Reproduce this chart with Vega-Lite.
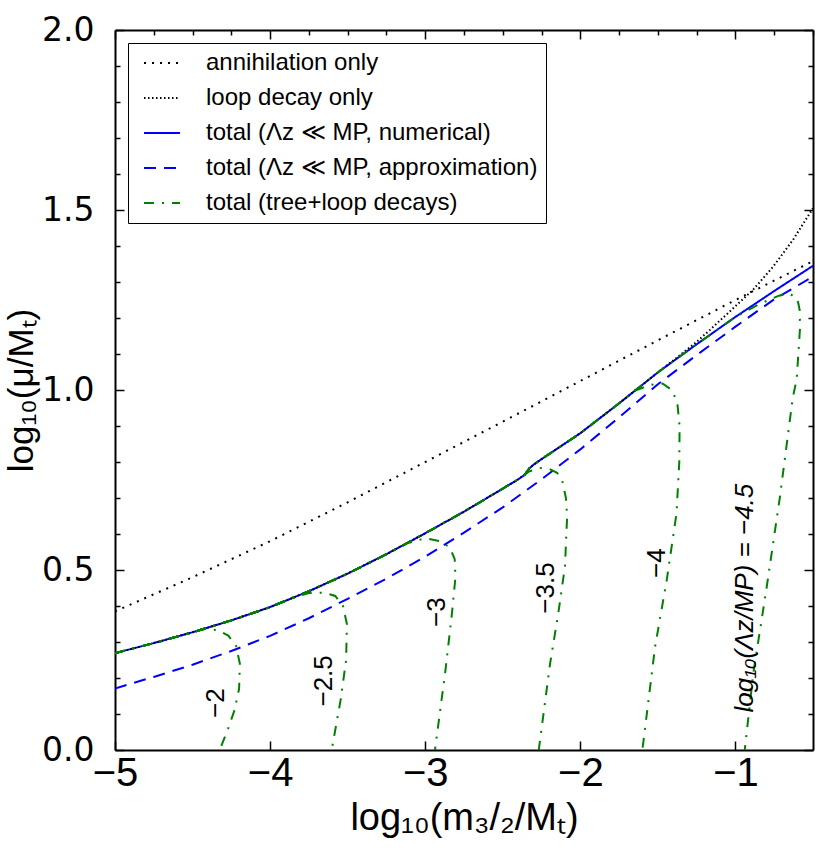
{
  "$schema": "https://vega.github.io/schema/vega-lite/v6.json",
  "width": 698,
  "height": 720,
  "autosize": {"type": "none"},
  "padding": {"left": 115, "top": 30, "right": 16, "bottom": 105},
  "config": {
    "font": "Liberation Sans",
    "view": {"stroke": null},
    "axis": {
      "grid": false,
      "domainColor": "black",
      "domainWidth": 2,
      "tickColor": "black",
      "tickWidth": 1.5,
      "labelColor": "black",
      "titleColor": "black",
      "titleFontWeight": "normal",
      "labelFlush": false,
      "labelOverlap": false
    },
    "text": {"font": "Liberation Sans", "color": "black"}
  },
  "datasets": {
    "curves": [
      {"series": "annihilation only", "k": 0, "x": -5, "y": 0.385},
      {"series": "annihilation only", "k": 1, "x": -4.5, "y": 0.48},
      {"series": "annihilation only", "k": 2, "x": -4, "y": 0.58},
      {"series": "annihilation only", "k": 3, "x": -3.5, "y": 0.688},
      {"series": "annihilation only", "k": 4, "x": -3, "y": 0.8},
      {"series": "annihilation only", "k": 5, "x": -2.5, "y": 0.912},
      {"series": "annihilation only", "k": 6, "x": -2, "y": 1.025},
      {"series": "annihilation only", "k": 7, "x": -1.5, "y": 1.138},
      {"series": "annihilation only", "k": 8, "x": -1, "y": 1.25},
      {"series": "annihilation only", "k": 9, "x": -0.5, "y": 1.358},

      {"series": "loop decay only", "k": 0, "x": -5, "y": 0.269},
      {"series": "loop decay only", "k": 1, "x": -4.75, "y": 0.297},
      {"series": "loop decay only", "k": 2, "x": -4.5, "y": 0.327},
      {"series": "loop decay only", "k": 3, "x": -4.25, "y": 0.36},
      {"series": "loop decay only", "k": 4, "x": -4, "y": 0.397},
      {"series": "loop decay only", "k": 5, "x": -3.75, "y": 0.441},
      {"series": "loop decay only", "k": 6, "x": -3.5, "y": 0.49},
      {"series": "loop decay only", "k": 7, "x": -3.25, "y": 0.544},
      {"series": "loop decay only", "k": 8, "x": -3, "y": 0.602},
      {"series": "loop decay only", "k": 9, "x": -2.75, "y": 0.662},
      {"series": "loop decay only", "k": 10, "x": -2.5, "y": 0.726},
      {"series": "loop decay only", "k": 11, "x": -2.4, "y": 0.752},
      {"series": "loop decay only", "k": 12, "x": -2.36, "y": 0.764},
      {"series": "loop decay only", "k": 13, "x": -2.33, "y": 0.782},
      {"series": "loop decay only", "k": 14, "x": -2.3, "y": 0.793},
      {"series": "loop decay only", "k": 15, "x": -2.25, "y": 0.808},
      {"series": "loop decay only", "k": 16, "x": -2, "y": 0.88},
      {"series": "loop decay only", "k": 17, "x": -1.75, "y": 0.963},
      {"series": "loop decay only", "k": 18, "x": -1.5, "y": 1.049},
      {"series": "loop decay only", "k": 19, "x": -1.377, "y": 1.09},
      {"series": "loop decay only", "k": 20, "x": -1.25, "y": 1.134},
      {"series": "loop decay only", "k": 21, "x": -1.164, "y": 1.167},
      {"series": "loop decay only", "k": 22, "x": -1, "y": 1.233},
      {"series": "loop decay only", "k": 23, "x": -0.887, "y": 1.278},
      {"series": "loop decay only", "k": 24, "x": -0.758, "y": 1.342},
      {"series": "loop decay only", "k": 25, "x": -0.629, "y": 1.417},
      {"series": "loop decay only", "k": 26, "x": -0.5, "y": 1.505},

      {"series": "total (Λz ≪ MP, numerical)", "k": 0, "x": -5, "y": 0.269},
      {"series": "total (Λz ≪ MP, numerical)", "k": 1, "x": -4.75, "y": 0.297},
      {"series": "total (Λz ≪ MP, numerical)", "k": 2, "x": -4.5, "y": 0.327},
      {"series": "total (Λz ≪ MP, numerical)", "k": 3, "x": -4.25, "y": 0.36},
      {"series": "total (Λz ≪ MP, numerical)", "k": 4, "x": -4, "y": 0.397},
      {"series": "total (Λz ≪ MP, numerical)", "k": 5, "x": -3.75, "y": 0.441},
      {"series": "total (Λz ≪ MP, numerical)", "k": 6, "x": -3.5, "y": 0.49},
      {"series": "total (Λz ≪ MP, numerical)", "k": 7, "x": -3.25, "y": 0.544},
      {"series": "total (Λz ≪ MP, numerical)", "k": 8, "x": -3, "y": 0.602},
      {"series": "total (Λz ≪ MP, numerical)", "k": 9, "x": -2.75, "y": 0.662},
      {"series": "total (Λz ≪ MP, numerical)", "k": 10, "x": -2.5, "y": 0.726},
      {"series": "total (Λz ≪ MP, numerical)", "k": 11, "x": -2.4, "y": 0.752},
      {"series": "total (Λz ≪ MP, numerical)", "k": 12, "x": -2.36, "y": 0.764},
      {"series": "total (Λz ≪ MP, numerical)", "k": 13, "x": -2.33, "y": 0.782},
      {"series": "total (Λz ≪ MP, numerical)", "k": 14, "x": -2.3, "y": 0.793},
      {"series": "total (Λz ≪ MP, numerical)", "k": 15, "x": -2.25, "y": 0.808},
      {"series": "total (Λz ≪ MP, numerical)", "k": 16, "x": -2, "y": 0.88},
      {"series": "total (Λz ≪ MP, numerical)", "k": 17, "x": -1.75, "y": 0.963},
      {"series": "total (Λz ≪ MP, numerical)", "k": 18, "x": -1.5, "y": 1.049},
      {"series": "total (Λz ≪ MP, numerical)", "k": 19, "x": -1.25, "y": 1.127},
      {"series": "total (Λz ≪ MP, numerical)", "k": 20, "x": -1, "y": 1.203},
      {"series": "total (Λz ≪ MP, numerical)", "k": 21, "x": -0.75, "y": 1.275},
      {"series": "total (Λz ≪ MP, numerical)", "k": 22, "x": -0.5, "y": 1.345},

      {"series": "total (Λz ≪ MP, approximation)", "k": 0, "x": -5, "y": 0.171},
      {"series": "total (Λz ≪ MP, approximation)", "k": 1, "x": -4.75, "y": 0.203},
      {"series": "total (Λz ≪ MP, approximation)", "k": 2, "x": -4.5, "y": 0.237},
      {"series": "total (Λz ≪ MP, approximation)", "k": 3, "x": -4.25, "y": 0.275},
      {"series": "total (Λz ≪ MP, approximation)", "k": 4, "x": -4, "y": 0.317},
      {"series": "total (Λz ≪ MP, approximation)", "k": 5, "x": -3.75, "y": 0.366},
      {"series": "total (Λz ≪ MP, approximation)", "k": 6, "x": -3.5, "y": 0.42},
      {"series": "total (Λz ≪ MP, approximation)", "k": 7, "x": -3.25, "y": 0.476},
      {"series": "total (Λz ≪ MP, approximation)", "k": 8, "x": -3, "y": 0.537},
      {"series": "total (Λz ≪ MP, approximation)", "k": 9, "x": -2.75, "y": 0.604},
      {"series": "total (Λz ≪ MP, approximation)", "k": 10, "x": -2.5, "y": 0.674},
      {"series": "total (Λz ≪ MP, approximation)", "k": 11, "x": -2.25, "y": 0.752},
      {"series": "total (Λz ≪ MP, approximation)", "k": 12, "x": -2, "y": 0.835},
      {"series": "total (Λz ≪ MP, approximation)", "k": 13, "x": -1.75, "y": 0.924},
      {"series": "total (Λz ≪ MP, approximation)", "k": 14, "x": -1.5, "y": 1.016},
      {"series": "total (Λz ≪ MP, approximation)", "k": 15, "x": -1.25, "y": 1.097},
      {"series": "total (Λz ≪ MP, approximation)", "k": 16, "x": -1, "y": 1.176},
      {"series": "total (Λz ≪ MP, approximation)", "k": 17, "x": -0.75, "y": 1.252},
      {"series": "total (Λz ≪ MP, approximation)", "k": 18, "x": -0.5, "y": 1.315}
    ],
    "tree": [
      {"series": "total (tree+loop decays)", "branch": "-2", "k": 0, "x": -5, "y": 0.269},
      {"series": "total (tree+loop decays)", "branch": "-2", "k": 1, "x": -4.75, "y": 0.297},
      {"series": "total (tree+loop decays)", "branch": "-2", "k": 2, "x": -4.5, "y": 0.327},
      {"series": "total (tree+loop decays)", "branch": "-2", "k": 3, "x": -4.42, "y": 0.336},
      {"series": "total (tree+loop decays)", "branch": "-2", "k": 4, "x": -4.34, "y": 0.333},
      {"series": "total (tree+loop decays)", "branch": "-2", "k": 5, "x": -4.27, "y": 0.318},
      {"series": "total (tree+loop decays)", "branch": "-2", "k": 6, "x": -4.22, "y": 0.29},
      {"series": "total (tree+loop decays)", "branch": "-2", "k": 7, "x": -4.195, "y": 0.24},
      {"series": "total (tree+loop decays)", "branch": "-2", "k": 8, "x": -4.2, "y": 0.17},
      {"series": "total (tree+loop decays)", "branch": "-2", "k": 9, "x": -4.23, "y": 0.11},
      {"series": "total (tree+loop decays)", "branch": "-2", "k": 10, "x": -4.27, "y": 0.06},
      {"series": "total (tree+loop decays)", "branch": "-2", "k": 11, "x": -4.325, "y": 0},

      {"series": "total (tree+loop decays)", "branch": "-2.5", "k": 0, "x": -5, "y": 0.269},
      {"series": "total (tree+loop decays)", "branch": "-2.5", "k": 1, "x": -4.75, "y": 0.297},
      {"series": "total (tree+loop decays)", "branch": "-2.5", "k": 2, "x": -4.5, "y": 0.327},
      {"series": "total (tree+loop decays)", "branch": "-2.5", "k": 3, "x": -4.25, "y": 0.36},
      {"series": "total (tree+loop decays)", "branch": "-2.5", "k": 4, "x": -4, "y": 0.397},
      {"series": "total (tree+loop decays)", "branch": "-2.5", "k": 5, "x": -3.85, "y": 0.424},
      {"series": "total (tree+loop decays)", "branch": "-2.5", "k": 6, "x": -3.75, "y": 0.436},
      {"series": "total (tree+loop decays)", "branch": "-2.5", "k": 7, "x": -3.65, "y": 0.437},
      {"series": "total (tree+loop decays)", "branch": "-2.5", "k": 8, "x": -3.58, "y": 0.428},
      {"series": "total (tree+loop decays)", "branch": "-2.5", "k": 9, "x": -3.53, "y": 0.4},
      {"series": "total (tree+loop decays)", "branch": "-2.5", "k": 10, "x": -3.505, "y": 0.35},
      {"series": "total (tree+loop decays)", "branch": "-2.5", "k": 11, "x": -3.51, "y": 0.25},
      {"series": "total (tree+loop decays)", "branch": "-2.5", "k": 12, "x": -3.545, "y": 0.14},
      {"series": "total (tree+loop decays)", "branch": "-2.5", "k": 13, "x": -3.603, "y": 0},

      {"series": "total (tree+loop decays)", "branch": "-3", "k": 0, "x": -5, "y": 0.269},
      {"series": "total (tree+loop decays)", "branch": "-3", "k": 1, "x": -4.75, "y": 0.297},
      {"series": "total (tree+loop decays)", "branch": "-3", "k": 2, "x": -4.5, "y": 0.327},
      {"series": "total (tree+loop decays)", "branch": "-3", "k": 3, "x": -4.25, "y": 0.36},
      {"series": "total (tree+loop decays)", "branch": "-3", "k": 4, "x": -4, "y": 0.397},
      {"series": "total (tree+loop decays)", "branch": "-3", "k": 5, "x": -3.75, "y": 0.441},
      {"series": "total (tree+loop decays)", "branch": "-3", "k": 6, "x": -3.5, "y": 0.49},
      {"series": "total (tree+loop decays)", "branch": "-3", "k": 7, "x": -3.25, "y": 0.544},
      {"series": "total (tree+loop decays)", "branch": "-3", "k": 8, "x": -3.12, "y": 0.574},
      {"series": "total (tree+loop decays)", "branch": "-3", "k": 9, "x": -3, "y": 0.588},
      {"series": "total (tree+loop decays)", "branch": "-3", "k": 10, "x": -2.9, "y": 0.58},
      {"series": "total (tree+loop decays)", "branch": "-3", "k": 11, "x": -2.84, "y": 0.562},
      {"series": "total (tree+loop decays)", "branch": "-3", "k": 12, "x": -2.81, "y": 0.53},
      {"series": "total (tree+loop decays)", "branch": "-3", "k": 13, "x": -2.805, "y": 0.48},
      {"series": "total (tree+loop decays)", "branch": "-3", "k": 14, "x": -2.83, "y": 0.37},
      {"series": "total (tree+loop decays)", "branch": "-3", "k": 15, "x": -2.87, "y": 0.22},
      {"series": "total (tree+loop decays)", "branch": "-3", "k": 16, "x": -2.937, "y": 0},

      {"series": "total (tree+loop decays)", "branch": "-3.5", "k": 0, "x": -5, "y": 0.269},
      {"series": "total (tree+loop decays)", "branch": "-3.5", "k": 1, "x": -4.75, "y": 0.297},
      {"series": "total (tree+loop decays)", "branch": "-3.5", "k": 2, "x": -4.5, "y": 0.327},
      {"series": "total (tree+loop decays)", "branch": "-3.5", "k": 3, "x": -4.25, "y": 0.36},
      {"series": "total (tree+loop decays)", "branch": "-3.5", "k": 4, "x": -4, "y": 0.397},
      {"series": "total (tree+loop decays)", "branch": "-3.5", "k": 5, "x": -3.75, "y": 0.441},
      {"series": "total (tree+loop decays)", "branch": "-3.5", "k": 6, "x": -3.5, "y": 0.49},
      {"series": "total (tree+loop decays)", "branch": "-3.5", "k": 7, "x": -3.25, "y": 0.544},
      {"series": "total (tree+loop decays)", "branch": "-3.5", "k": 8, "x": -3, "y": 0.602},
      {"series": "total (tree+loop decays)", "branch": "-3.5", "k": 9, "x": -2.75, "y": 0.662},
      {"series": "total (tree+loop decays)", "branch": "-3.5", "k": 10, "x": -2.5, "y": 0.726},
      {"series": "total (tree+loop decays)", "branch": "-3.5", "k": 11, "x": -2.4, "y": 0.752},
      {"series": "total (tree+loop decays)", "branch": "-3.5", "k": 12, "x": -2.33, "y": 0.774},
      {"series": "total (tree+loop decays)", "branch": "-3.5", "k": 13, "x": -2.26, "y": 0.783},
      {"series": "total (tree+loop decays)", "branch": "-3.5", "k": 14, "x": -2.2, "y": 0.781},
      {"series": "total (tree+loop decays)", "branch": "-3.5", "k": 15, "x": -2.15, "y": 0.77},
      {"series": "total (tree+loop decays)", "branch": "-3.5", "k": 16, "x": -2.115, "y": 0.745},
      {"series": "total (tree+loop decays)", "branch": "-3.5", "k": 17, "x": -2.093, "y": 0.7},
      {"series": "total (tree+loop decays)", "branch": "-3.5", "k": 18, "x": -2.085, "y": 0.65},
      {"series": "total (tree+loop decays)", "branch": "-3.5", "k": 19, "x": -2.099, "y": 0.51},
      {"series": "total (tree+loop decays)", "branch": "-3.5", "k": 20, "x": -2.142, "y": 0.38},
      {"series": "total (tree+loop decays)", "branch": "-3.5", "k": 21, "x": -2.195, "y": 0.24},
      {"series": "total (tree+loop decays)", "branch": "-3.5", "k": 22, "x": -2.268, "y": 0},

      {"series": "total (tree+loop decays)", "branch": "-4", "k": 0, "x": -5, "y": 0.269},
      {"series": "total (tree+loop decays)", "branch": "-4", "k": 1, "x": -4.75, "y": 0.297},
      {"series": "total (tree+loop decays)", "branch": "-4", "k": 2, "x": -4.5, "y": 0.327},
      {"series": "total (tree+loop decays)", "branch": "-4", "k": 3, "x": -4.25, "y": 0.36},
      {"series": "total (tree+loop decays)", "branch": "-4", "k": 4, "x": -4, "y": 0.397},
      {"series": "total (tree+loop decays)", "branch": "-4", "k": 5, "x": -3.75, "y": 0.441},
      {"series": "total (tree+loop decays)", "branch": "-4", "k": 6, "x": -3.5, "y": 0.49},
      {"series": "total (tree+loop decays)", "branch": "-4", "k": 7, "x": -3.25, "y": 0.544},
      {"series": "total (tree+loop decays)", "branch": "-4", "k": 8, "x": -3, "y": 0.602},
      {"series": "total (tree+loop decays)", "branch": "-4", "k": 9, "x": -2.75, "y": 0.662},
      {"series": "total (tree+loop decays)", "branch": "-4", "k": 10, "x": -2.5, "y": 0.726},
      {"series": "total (tree+loop decays)", "branch": "-4", "k": 11, "x": -2.4, "y": 0.752},
      {"series": "total (tree+loop decays)", "branch": "-4", "k": 12, "x": -2.36, "y": 0.764},
      {"series": "total (tree+loop decays)", "branch": "-4", "k": 13, "x": -2.33, "y": 0.782},
      {"series": "total (tree+loop decays)", "branch": "-4", "k": 14, "x": -2.3, "y": 0.793},
      {"series": "total (tree+loop decays)", "branch": "-4", "k": 15, "x": -2.25, "y": 0.808},
      {"series": "total (tree+loop decays)", "branch": "-4", "k": 16, "x": -2, "y": 0.88},
      {"series": "total (tree+loop decays)", "branch": "-4", "k": 17, "x": -1.75, "y": 0.963},
      {"series": "total (tree+loop decays)", "branch": "-4", "k": 18, "x": -1.65, "y": 0.998},
      {"series": "total (tree+loop decays)", "branch": "-4", "k": 19, "x": -1.55, "y": 1.014},
      {"series": "total (tree+loop decays)", "branch": "-4", "k": 20, "x": -1.47, "y": 1.018},
      {"series": "total (tree+loop decays)", "branch": "-4", "k": 21, "x": -1.41, "y": 1.0},
      {"series": "total (tree+loop decays)", "branch": "-4", "k": 22, "x": -1.375, "y": 0.965},
      {"series": "total (tree+loop decays)", "branch": "-4", "k": 23, "x": -1.36, "y": 0.9},
      {"series": "total (tree+loop decays)", "branch": "-4", "k": 24, "x": -1.362, "y": 0.8},
      {"series": "total (tree+loop decays)", "branch": "-4", "k": 25, "x": -1.38, "y": 0.657},
      {"series": "total (tree+loop decays)", "branch": "-4", "k": 26, "x": -1.443, "y": 0.472},
      {"series": "total (tree+loop decays)", "branch": "-4", "k": 27, "x": -1.518, "y": 0.287},
      {"series": "total (tree+loop decays)", "branch": "-4", "k": 28, "x": -1.6, "y": 0},

      {"series": "total (tree+loop decays)", "branch": "-4.5", "k": 0, "x": -5, "y": 0.269},
      {"series": "total (tree+loop decays)", "branch": "-4.5", "k": 1, "x": -4.75, "y": 0.297},
      {"series": "total (tree+loop decays)", "branch": "-4.5", "k": 2, "x": -4.5, "y": 0.327},
      {"series": "total (tree+loop decays)", "branch": "-4.5", "k": 3, "x": -4.25, "y": 0.36},
      {"series": "total (tree+loop decays)", "branch": "-4.5", "k": 4, "x": -4, "y": 0.397},
      {"series": "total (tree+loop decays)", "branch": "-4.5", "k": 5, "x": -3.75, "y": 0.441},
      {"series": "total (tree+loop decays)", "branch": "-4.5", "k": 6, "x": -3.5, "y": 0.49},
      {"series": "total (tree+loop decays)", "branch": "-4.5", "k": 7, "x": -3.25, "y": 0.544},
      {"series": "total (tree+loop decays)", "branch": "-4.5", "k": 8, "x": -3, "y": 0.602},
      {"series": "total (tree+loop decays)", "branch": "-4.5", "k": 9, "x": -2.75, "y": 0.662},
      {"series": "total (tree+loop decays)", "branch": "-4.5", "k": 10, "x": -2.5, "y": 0.726},
      {"series": "total (tree+loop decays)", "branch": "-4.5", "k": 11, "x": -2.4, "y": 0.752},
      {"series": "total (tree+loop decays)", "branch": "-4.5", "k": 12, "x": -2.36, "y": 0.764},
      {"series": "total (tree+loop decays)", "branch": "-4.5", "k": 13, "x": -2.33, "y": 0.782},
      {"series": "total (tree+loop decays)", "branch": "-4.5", "k": 14, "x": -2.3, "y": 0.793},
      {"series": "total (tree+loop decays)", "branch": "-4.5", "k": 15, "x": -2.25, "y": 0.808},
      {"series": "total (tree+loop decays)", "branch": "-4.5", "k": 16, "x": -2, "y": 0.88},
      {"series": "total (tree+loop decays)", "branch": "-4.5", "k": 17, "x": -1.75, "y": 0.963},
      {"series": "total (tree+loop decays)", "branch": "-4.5", "k": 18, "x": -1.5, "y": 1.049},
      {"series": "total (tree+loop decays)", "branch": "-4.5", "k": 19, "x": -1.25, "y": 1.127},
      {"series": "total (tree+loop decays)", "branch": "-4.5", "k": 20, "x": -1, "y": 1.203},
      {"series": "total (tree+loop decays)", "branch": "-4.5", "k": 21, "x": -0.85, "y": 1.238},
      {"series": "total (tree+loop decays)", "branch": "-4.5", "k": 22, "x": -0.72, "y": 1.262},
      {"series": "total (tree+loop decays)", "branch": "-4.5", "k": 23, "x": -0.65, "y": 1.268},
      {"series": "total (tree+loop decays)", "branch": "-4.5", "k": 24, "x": -0.6, "y": 1.252},
      {"series": "total (tree+loop decays)", "branch": "-4.5", "k": 25, "x": -0.585, "y": 1.22},
      {"series": "total (tree+loop decays)", "branch": "-4.5", "k": 26, "x": -0.584, "y": 1.17},
      {"series": "total (tree+loop decays)", "branch": "-4.5", "k": 27, "x": -0.605, "y": 1.03},
      {"series": "total (tree+loop decays)", "branch": "-4.5", "k": 28, "x": -0.63, "y": 0.98},
      {"series": "total (tree+loop decays)", "branch": "-4.5", "k": 29, "x": -0.713, "y": 0.704},
      {"series": "total (tree+loop decays)", "branch": "-4.5", "k": 30, "x": -0.798, "y": 0.454},
      {"series": "total (tree+loop decays)", "branch": "-4.5", "k": 31, "x": -0.885, "y": 0.213},
      {"series": "total (tree+loop decays)", "branch": "-4.5", "k": 32, "x": -0.94, "y": 0}
    ],
    "tags": [
      {"tag": "−2", "x": -4.35, "y": 0.13},
      {"tag": "−2.5", "x": -3.652, "y": 0.192},
      {"tag": "−3", "x": -2.924, "y": 0.383},
      {"tag": "−3.5", "x": -2.221, "y": 0.45},
      {"tag": "−4", "x": -1.505, "y": 0.519}
    ],
    "tagLong": [
      {"tag": "log₁₀(Λz/MP) = −4.5", "x": -0.938, "y": 0.422}
    ]
  },
  "resolve": {"axis": {"x": "independent", "y": "independent"}},
  "layer": [
    {
      "data": {"name": "curves"},
      "transform": [{"filter": "datum.series !== 'loop decay only'"}],
      "mark": {"type": "line", "strokeWidth": 2, "strokeCap": "butt", "clip": true},
      "encoding": {
        "x": {
          "field": "x", "type": "quantitative",
          "scale": {"domain": [-5, -0.5], "nice": false, "zero": false},
          "axis": {
            "orient": "bottom",
            "values": [-5, -4.75, -4.5, -4.25, -4, -3.75, -3.5, -3.25, -3, -2.75, -2.5, -2.25, -2, -1.75, -1.5, -1.25, -1, -0.75, -0.5],
            "format": "d",
            "labelExpr": "datum.value % 1 === 0 ? datum.label : ''",
            "tickSize": {"condition": {"test": "datum.value % 1 === 0", "value": -9}, "value": -5},
            "labelFont": "Liberation Sans",
            "labelFontSize": 40,
            "labelPadding": 12,
            "title": "log₁₀(m₃/₂/Mₜ)",
            "titleFont": "Liberation Sans",
            "titleFontSize": 38,
            "titlePadding": 6
          }
        },
        "y": {
          "field": "y", "type": "quantitative",
          "scale": {"domain": [0, 2], "nice": false, "zero": false},
          "axis": {
            "orient": "left",
            "values": [0, 0.1, 0.2, 0.3, 0.4, 0.5, 0.6, 0.7, 0.8, 0.9, 1.0, 1.1, 1.2, 1.3, 1.4, 1.5, 1.6, 1.7, 1.8, 1.9, 2.0],
            "format": ".1f",
            "labelExpr": "abs(datum.value * 2 - round(datum.value * 2)) < 0.001 ? datum.label : ''",
            "tickSize": {"condition": {"test": "abs(datum.value * 2 - round(datum.value * 2)) < 0.001", "value": -9}, "value": -5},
            "labelFont": "DejaVu Sans",
            "labelFontSize": 33,
            "labelPadding": 30,
            "title": "log₁₀(μ/Mₜ)",
            "titleFont": "Liberation Sans",
            "titleFontSize": 35,
            "titlePadding": 2
          }
        },
        "color": {
          "field": "series", "type": "nominal",
          "scale": {
            "domain": ["annihilation only", "loop decay only", "total (Λz ≪ MP, numerical)", "total (Λz ≪ MP, approximation)", "total (tree+loop decays)"],
            "range": ["#000000", "#000000", "#0000ff", "#0000ff", "#008000"]
          },
          "legend": {
            "orient": "top-left", "offset": 13, "title": null,
            "symbolType": "M-1.8,0H1.8", "symbolSize": 400, "symbolStrokeWidth": 2, "symbolOffset": 14,
            "labelOffset": 32, "labelFontSize": 24, "labelFont": "Liberation Sans", "labelColor": "black", "labelLimit": 0,
            "rowPadding": 11, "padding": 8, "strokeColor": "black", "fillColor": "white", "cornerRadius": 0
          }
        },
        "strokeDash": {
          "field": "series", "type": "nominal",
          "scale": {
            "domain": ["annihilation only", "loop decay only", "total (Λz ≪ MP, numerical)", "total (Λz ≪ MP, approximation)", "total (tree+loop decays)"],
            "range": [[2, 6], [1.5, 2.5], [1, 0], [12, 8], [10, 8, 2, 8]]
          },
          "legend": {
            "orient": "top-left", "offset": 13, "title": null,
            "symbolType": "M-1.8,0H1.8", "symbolSize": 400, "symbolStrokeWidth": 2, "symbolOffset": 14,
            "labelOffset": 32, "labelFontSize": 24, "labelFont": "Liberation Sans", "labelColor": "black", "labelLimit": 0,
            "rowPadding": 11, "padding": 8, "strokeColor": "black", "fillColor": "white", "cornerRadius": 0
          }
        },
        "order": {"field": "k", "type": "quantitative"}
      }
    },
    {
      "data": {"name": "curves"},
      "transform": [{"filter": "datum.series === 'loop decay only'"}],
      "mark": {"type": "line", "strokeWidth": 2, "strokeCap": "butt", "clip": true},
      "encoding": {
        "x": {"field": "x", "type": "quantitative", "scale": {"domain": [-5, -0.5], "nice": false, "zero": false}, "axis": null},
        "y": {"field": "y", "type": "quantitative", "scale": {"domain": [0, 2], "nice": false, "zero": false}, "axis": null},
        "color": {
          "field": "series", "type": "nominal",
          "scale": {
            "domain": ["annihilation only", "loop decay only", "total (Λz ≪ MP, numerical)", "total (Λz ≪ MP, approximation)", "total (tree+loop decays)"],
            "range": ["#000000", "#000000", "#0000ff", "#0000ff", "#008000"]
          }
        },
        "strokeDash": {
          "field": "series", "type": "nominal",
          "scale": {
            "domain": ["annihilation only", "loop decay only", "total (Λz ≪ MP, numerical)", "total (Λz ≪ MP, approximation)", "total (tree+loop decays)"],
            "range": [[2, 6], [1.5, 2.5], [1, 0], [12, 8], [10, 8, 2, 8]]
          }
        },
        "order": {"field": "k", "type": "quantitative"}
      }
    },
    {
      "data": {"name": "tree"},
      "mark": {"type": "line", "strokeWidth": 2, "strokeCap": "butt", "clip": true},
      "encoding": {
        "x": {
          "field": "x", "type": "quantitative",
          "scale": {"domain": [-5, -0.5], "nice": false, "zero": false},
          "axis": {
            "orient": "top",
            "values": [-5, -4.75, -4.5, -4.25, -4, -3.75, -3.5, -3.25, -3, -2.75, -2.5, -2.25, -2, -1.75, -1.5, -1.25, -1, -0.75, -0.5],
            "labels": false,
            "tickSize": {"condition": {"test": "datum.value % 1 === 0", "value": -9}, "value": -5},
            "title": null
          }
        },
        "y": {
          "field": "y", "type": "quantitative",
          "scale": {"domain": [0, 2], "nice": false, "zero": false},
          "axis": {
            "orient": "right",
            "values": [0, 0.1, 0.2, 0.3, 0.4, 0.5, 0.6, 0.7, 0.8, 0.9, 1.0, 1.1, 1.2, 1.3, 1.4, 1.5, 1.6, 1.7, 1.8, 1.9, 2.0],
            "labels": false,
            "tickSize": {"condition": {"test": "abs(datum.value * 2 - round(datum.value * 2)) < 0.001", "value": -9}, "value": -5},
            "title": null
          }
        },
        "color": {
          "field": "series", "type": "nominal",
          "scale": {
            "domain": ["annihilation only", "loop decay only", "total (Λz ≪ MP, numerical)", "total (Λz ≪ MP, approximation)", "total (tree+loop decays)"],
            "range": ["#000000", "#000000", "#0000ff", "#0000ff", "#008000"]
          }
        },
        "strokeDash": {
          "field": "series", "type": "nominal",
          "scale": {
            "domain": ["annihilation only", "loop decay only", "total (Λz ≪ MP, numerical)", "total (Λz ≪ MP, approximation)", "total (tree+loop decays)"],
            "range": [[2, 6], [1.5, 2.5], [1, 0], [12, 8], [10, 8, 2, 8]]
          }
        },
        "detail": {"field": "branch", "type": "nominal"},
        "order": {"field": "k", "type": "quantitative"}
      }
    },
    {
      "data": {"name": "tags"},
      "mark": {"type": "text", "angle": 270, "align": "center", "baseline": "middle", "fontSize": 26, "color": "black"},
      "encoding": {
        "x": {"field": "x", "type": "quantitative", "axis": null},
        "y": {"field": "y", "type": "quantitative", "axis": null},
        "text": {"field": "tag", "type": "nominal"}
      }
    },
    {
      "data": {"name": "tagLong"},
      "mark": {"type": "text", "angle": 270, "align": "center", "baseline": "middle", "fontSize": 26, "fontStyle": "italic", "color": "black"},
      "encoding": {
        "x": {"field": "x", "type": "quantitative", "axis": null},
        "y": {"field": "y", "type": "quantitative", "axis": null},
        "text": {"field": "tag", "type": "nominal"}
      }
    }
  ]
}
